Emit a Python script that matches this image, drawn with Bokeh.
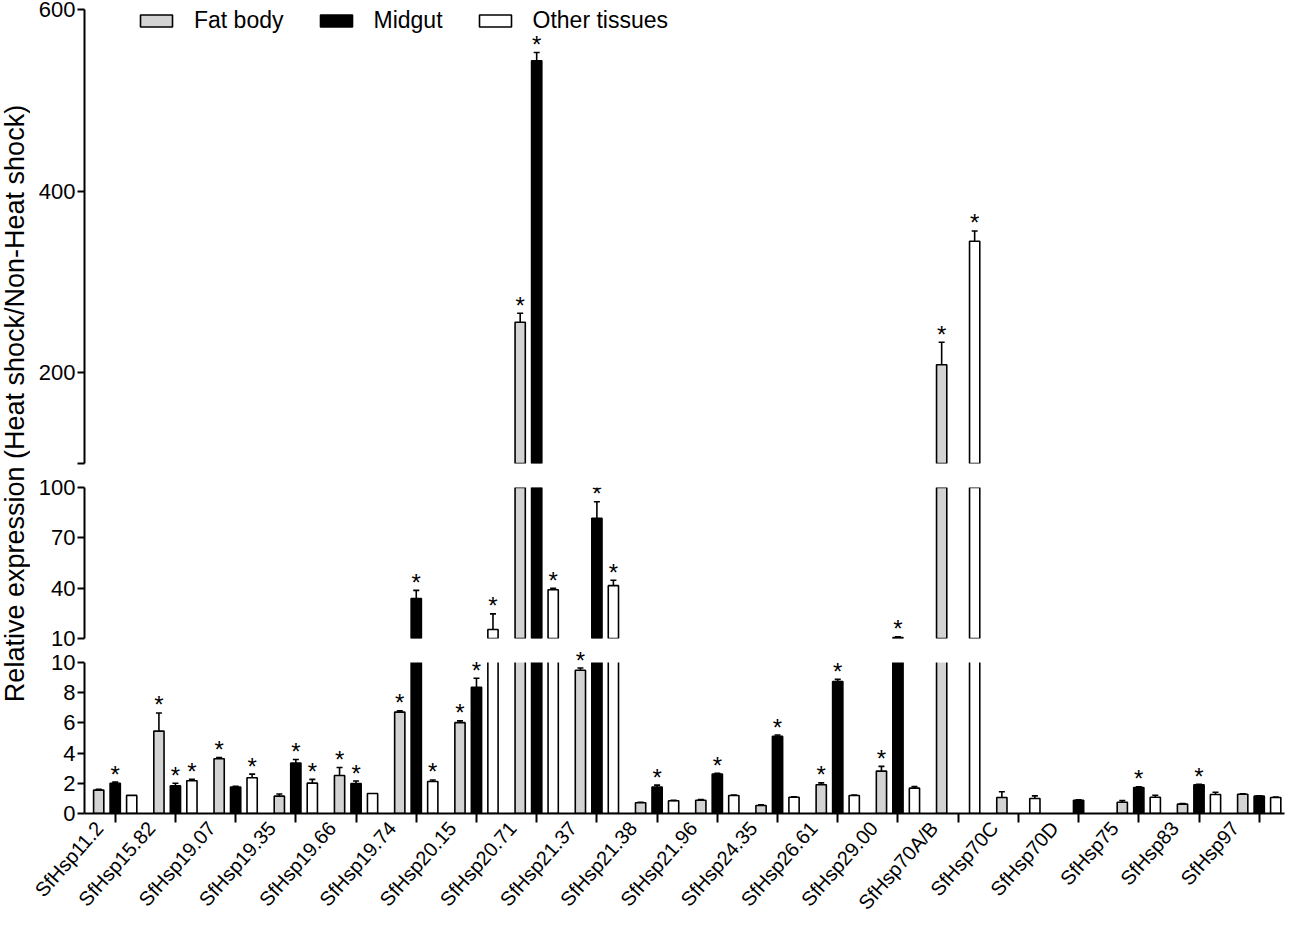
import math
from bokeh.plotting import figure
from bokeh.models import (Range1d, FixedTicker, ColumnDataSource, Legend, LegendItem, Label,
                          LinearAxis, BoxAnnotation)
from bokeh.layouts import row, column
from bokeh.embed import file_html
from bokeh.resources import INLINE

# ---------------- data ----------------
genes = ["SfHsp11.2", "SfHsp15.82", "SfHsp19.07", "SfHsp19.35", "SfHsp19.66",
         "SfHsp19.74", "SfHsp20.15", "SfHsp20.71", "SfHsp21.37", "SfHsp21.38",
         "SfHsp21.96", "SfHsp24.35", "SfHsp26.61", "SfHsp29.00", "SfHsp70A/B",
         "SfHsp70C", "SfHsp70D", "SfHsp75", "SfHsp83", "SfHsp97"]
tissues = ["Fat body", "Midgut", "Other tissues"]

fat_mean = [1.55, 5.46, 3.63, 1.15, 2.52, 6.72, 6.02, 255.5, 9.49, 0.71,
            0.88, 0.53, 1.90, 2.81, 208.7, 1.06, None, 0.75, 0.62, 1.28]
fat_err = [0.06, 1.20, 0.07, 0.14, 0.53, 0.08, 0.12, 9.9, 0.15, 0.04,
           0.04, 0.04, 0.13, 0.31, 24.9, 0.38, 0.0, 0.10, 0.04, 0.03]
fat_star = [0, 1, 1, 0, 1, 1, 1, 1, 1, 0, 0, 0, 1, 1, 1, 0, 0, 0, 0, 0]

mid_mean = [2.00, 1.83, 1.75, 3.34, 1.99, 33.8, 8.36, 543.5, 81.6, 1.75,
            2.61, 5.11, 8.74, 10.5, None, None, 0.88, 1.72, 1.90, 1.15]
mid_err = [0.08, 0.17, 0.05, 0.24, 0.16, 4.9, 0.60, 9.1, 9.9, 0.13,
           0.06, 0.09, 0.15, 0.5, 0.0, 0.0, 0.03, 0.05, 0.04, 0.03]
mid_star = [1, 1, 0, 1, 1, 1, 1, 1, 1, 1, 1, 1, 1, 1, 0, 0, 0, 1, 1, 0]

oth_mean = [1.20, 2.17, 2.37, 2.01, 1.33, 2.12, 15.4, 39.1, 41.5, 0.84,
            1.19, 1.08, 1.19, 1.68, 344.8, 0.99, None, 1.08, 1.26, 1.06]
oth_err = [0.0, 0.10, 0.24, 0.25, 0.0, 0.10, 9.3, 0.8, 3.2, 0.03,
           0.04, 0.03, 0.03, 0.10, 11.3, 0.18, 0.0, 0.13, 0.15, 0.03]
oth_star = [0, 1, 1, 1, 0, 1, 1, 1, 1, 0, 0, 0, 0, 0, 1, 0, 0, 0, 0, 0]

# axis segments (broken y axis): (low, high, ticks)
seg_top = (100, 600, [100, 200, 400, 600])
seg_mid = (10, 100, [10, 40, 70, 100])
seg_bot = (0, 10, [0, 2, 4, 6, 8, 10])

y_label = "Relative expression (Heat shock/Non-Heat shock)"

# ---------------- styling ----------------
FONT = "Liberation Sans"
series = [(fat_mean, fat_err, fat_star), (mid_mean, mid_err, mid_star),
          (oth_mean, oth_err, oth_star)]
fills = ["#d3d3d3", "#000000", "#ffffff"]
offsets = [-0.274, 0.0, 0.274]
bar_w = 0.17
cap_half = 0.05
W = 1256
LEFT = 54
STAR_PX = "24px"
STAR_OFF = 8
LABEL_SHIFT = -0.40      # x-label anchor shift (category units)
BOT_EXTRA = 0.80         # blank head-room above the lowest segment (gap of the break)

xr = Range1d(-0.51, 19.42)


def style_axis(ax):
    ax.axis_line_width = 2
    ax.major_tick_line_width = 2
    ax.major_tick_in = 0
    ax.minor_tick_out = 0
    ax.minor_tick_in = 0
    ax.major_label_text_font = FONT
    ax.major_label_text_color = "black"


def make_seg(seg, height, b_top, b_bottom, show_x, lowest):
    lo, hi, ticks = seg
    y_end = hi + BOT_EXTRA if lowest else hi
    # bars running past the top of the lowest segment stop inside the masked gap
    cap_top = hi + BOT_EXTRA / 2 if lowest else None
    p = figure(width=W, height=height, x_range=xr, y_range=Range1d(lo, y_end),
               output_backend="svg", toolbar_location=None,
               min_border_left=LEFT, min_border_right=2,
               min_border_top=b_top, min_border_bottom=b_bottom,
               x_axis_location="below" if show_x else None,
               outline_line_color=None, background_fill_color="white")
    p.grid.visible = False
    renderers = []
    star_labels = []
    for k in range(3):
        means, errs, stars = series[k]
        bars = dict(x=[], top=[])
        ebar = dict(x=[], top=[], etop=[], xl=[], xr=[])
        for i, (m, e, s) in enumerate(zip(means, errs, stars)):
            if m is None:
                continue
            x = i + offsets[k]
            if m > lo:
                bars["x"].append(x)
                bars["top"].append(min(m, cap_top) if cap_top else m)
            if e > 0 and m + e > lo and (cap_top is None or m + e <= hi):
                ebar["x"].append(x)
                ebar["top"].append(m)
                ebar["etop"].append(m + e)
                ebar["xl"].append(x - cap_half)
                ebar["xr"].append(x + cap_half)
            # significance star belongs to the segment holding the error-bar top
            if s and (m + e > lo or lowest) and m + e <= hi:
                star_labels.append(Label(x=x, y=m + e, text="*", text_align="center",
                                         text_baseline="alphabetic", y_offset=STAR_OFF,
                                         text_font=FONT, text_font_size=STAR_PX,
                                         text_color="black", level="overlay"))
        r = p.vbar(x="x", top="top", bottom=0, width=bar_w,
                   source=ColumnDataSource(bars), fill_color=fills[k],
                   line_color="black", line_width=1.6)
        renderers.append(r)
        es = ColumnDataSource(ebar)
        p.segment(x0="x", y0="top", x1="x", y1="etop", source=es,
                  line_color="black", line_width=1.6)
        p.segment(x0="xl", y0="etop", x1="xr", y1="etop", source=es,
                  line_color="black", line_width=1.6)
    if lowest:
        # blank out everything above the segment top: this is the break gap
        p.add_layout(BoxAnnotation(bottom=hi, fill_color="white", fill_alpha=1.0,
                                   line_alpha=0, level="guide"))
    for lab in star_labels:
        p.add_layout(lab)
    ax = p.yaxis[0]
    ax.ticker = FixedTicker(ticks=ticks)
    ax.bounds = (lo, hi)
    if lo == 100:
        ax.major_label_overrides = {100: ""}
    style_axis(ax)
    ax.major_tick_out = 7
    ax.major_label_standoff = 2
    ax.major_label_text_font_size = "22px"
    if show_x:
        xa = p.xaxis[0]
        style_axis(xa)
        xa.ticker = FixedTicker(ticks=list(range(len(genes))))
        xa.major_label_overrides = {i: "" for i in range(len(genes))}
        xa.major_label_text_font_size = "1px"
        xa.major_label_standoff = 0
        xa.major_tick_out = 9
        lab_ticks = [i + LABEL_SHIFT for i in range(len(genes))]
        la = LinearAxis(ticker=FixedTicker(ticks=lab_ticks),
                        major_label_overrides={t: g for t, g in zip(lab_ticks, genes)},
                        major_label_orientation=0.85, major_label_standoff=2,
                        axis_line_color=None, major_tick_line_color=None,
                        minor_tick_line_color=None, major_tick_out=0, major_tick_in=0)
        la.major_label_text_font = FONT
        la.major_label_text_font_size = "20px"
        la.major_label_text_color = "black"
        p.add_layout(la, "below")
    return p, renderers


H_TOP, H_MID = 475, 175
H_BOT = 163 + 110
p_top, rend_top = make_seg(seg_top, H_TOP, 9, 12, False, False)
p_mid, _ = make_seg(seg_mid, H_MID, 12, 12, False, False)
p_bot, _ = make_seg(seg_bot, H_BOT, 0, 110, True, True)

legend = Legend(items=[LegendItem(label=t, renderers=[r]) for t, r in zip(tissues, rend_top)],
                orientation="horizontal", location=(52, 429),
                glyph_width=40, glyph_height=15, label_standoff=18, spacing=32,
                padding=0, margin=0, border_line_alpha=0, background_fill_alpha=0,
                label_text_font=FONT, label_text_font_size="23px",
                label_text_color="black")
p_top.add_layout(legend)

# y-axis title spanning all three segments
H_ALL = H_TOP + H_MID + H_BOT
p_lab = figure(width=30, height=H_ALL, x_range=Range1d(0, 30), y_range=Range1d(0, H_ALL),
               output_backend="svg", toolbar_location=None, min_border=0,
               x_axis_location=None, y_axis_location=None, outline_line_color=None)
p_lab.grid.visible = False
p_lab.add_layout(Label(x=14, y=H_ALL - 403, text=y_label, angle=math.pi / 2,
                       text_align="center", text_baseline="middle",
                       text_font=FONT, text_font_size="27px", text_color="black"))

layout = row(p_lab, column(p_top, p_mid, p_bot))

open("out.html", "w").write(file_html(layout, INLINE))
